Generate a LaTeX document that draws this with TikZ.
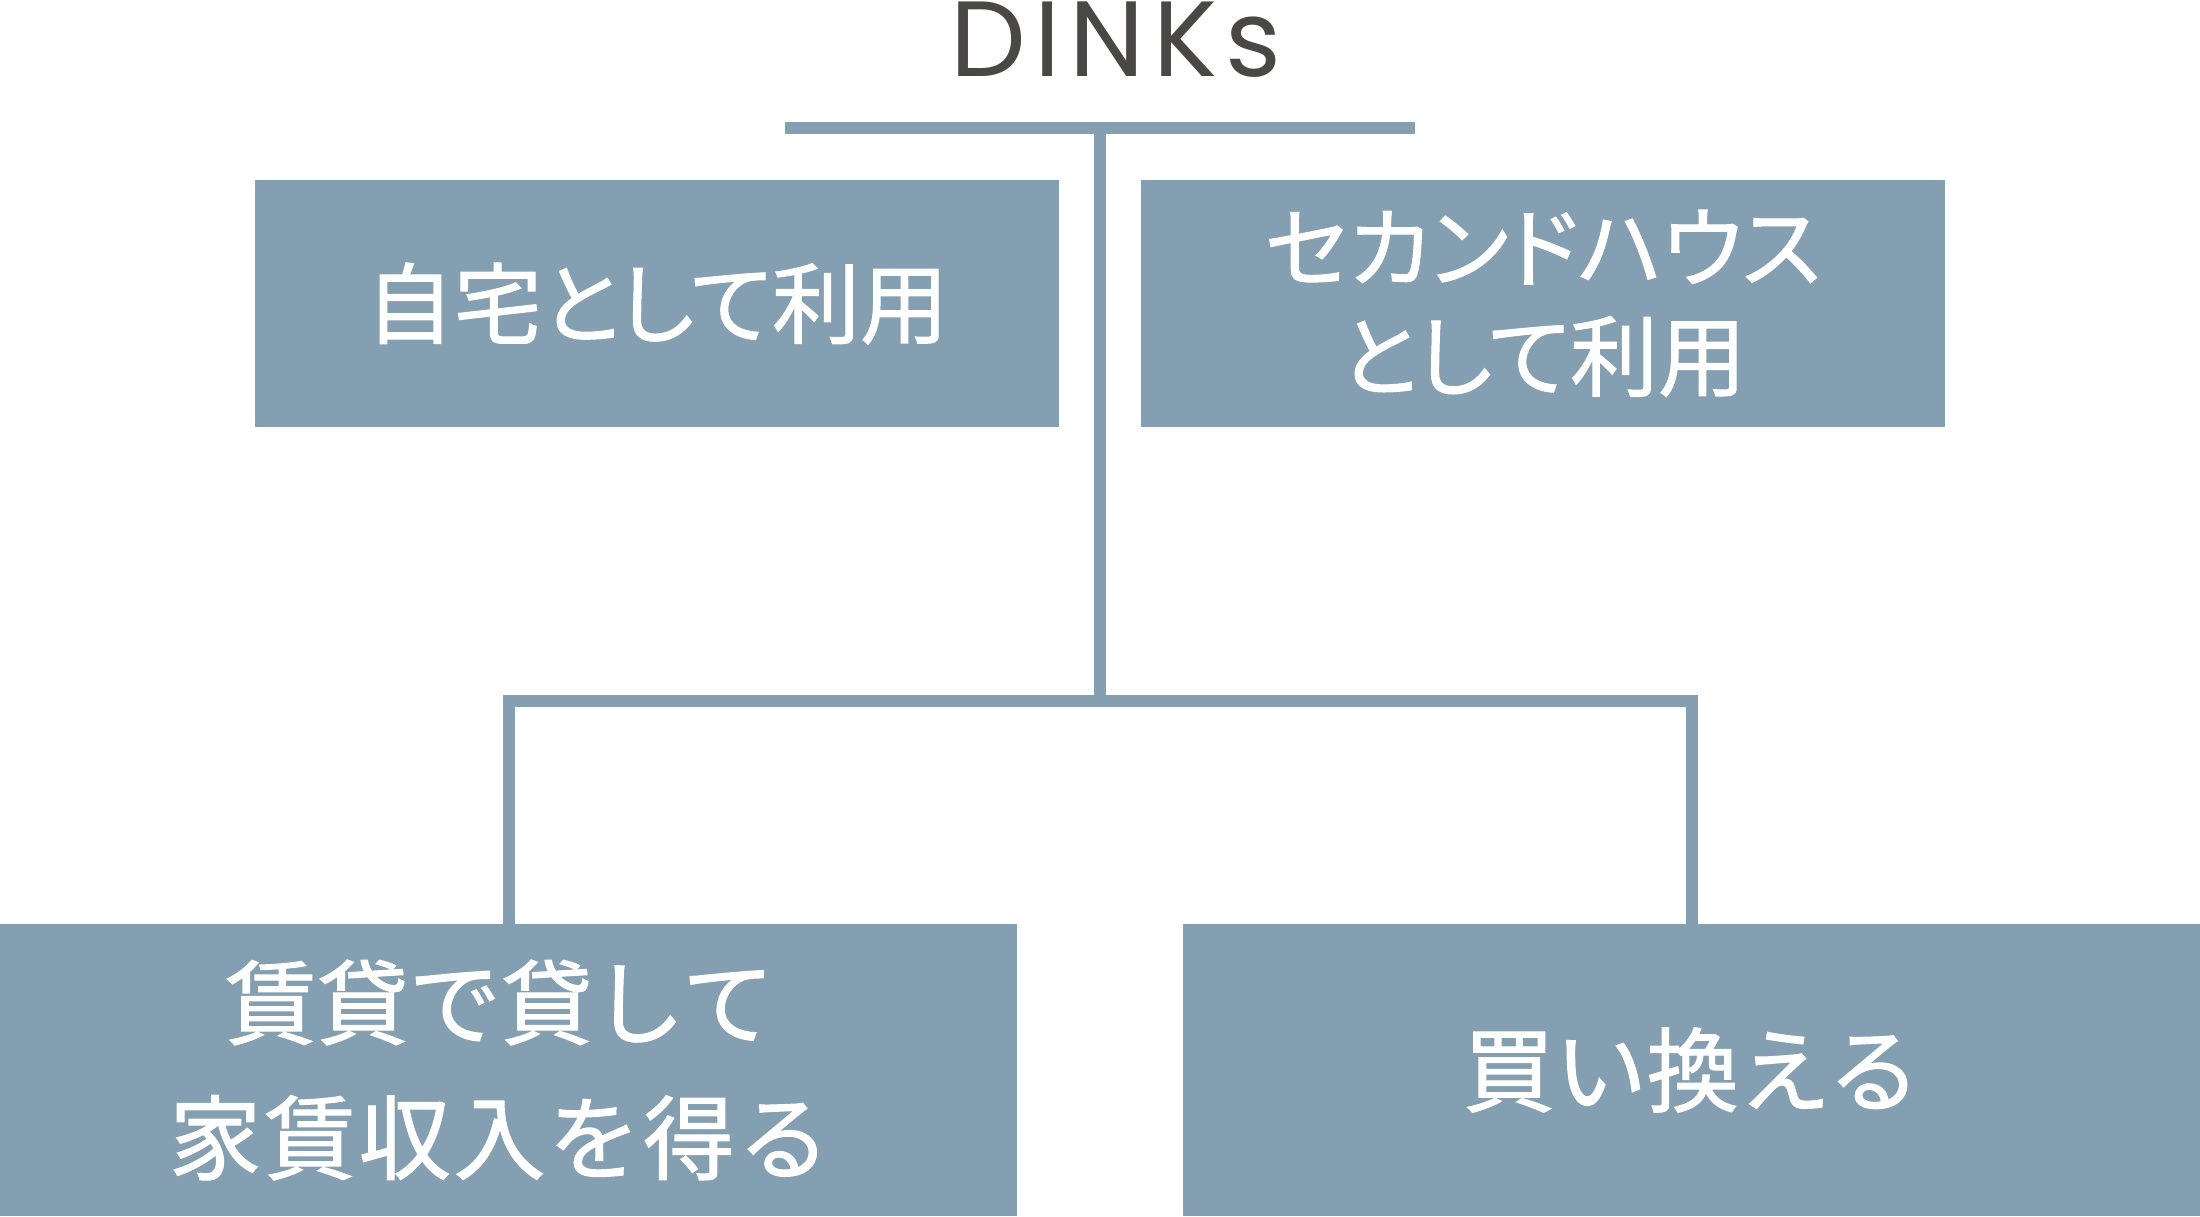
\documentclass[tikz,border=0pt]{standalone}
\usepackage{fontspec}
\newfontfamily\jpfont[RawFeature=+palt, FakeBold=1.2]{Noto Sans CJK JP}
\newfontfamily\jpfontwide[FakeBold=1.2]{Noto Sans CJK JP}
\newfontfamily\titlefont[LetterSpace=8]{Poppins}
\definecolor{boxblue}{HTML}{839FB1}
\definecolor{titlegray}{HTML}{4A4846}
\tikzset{
  box/.style={fill=boxblue, draw=none, inner sep=0pt, text=white, align=center},
  conn/.style={draw=boxblue, line width=12pt, line cap=butt, line join=miter},
}
\begin{document}
\begin{tikzpicture}[x=1pt,y=-1pt]
\useasboundingbox (0,0) rectangle (2200,1216);
% title
\node[text=titlegray, inner sep=0pt, font=\titlefont\fontsize{107}{107}\selectfont] (title) at (1116,40) {DINKs};
\node[fill=boxblue, inner sep=0pt, minimum width=630pt, minimum height=12pt] (bar) at (1100,128) {};
% top boxes
\node[box, minimum width=804pt, minimum height=247pt, font=\jpfont\fontsize{88}{109}\selectfont] (home) at (657,303.5) {\raisebox{-5pt}{自宅として利用}};
\node[box, minimum width=804pt, minimum height=247pt, font=\jpfont\fontsize{88}{109}\selectfont] (second) at (1543,303.5) {セカンドハウス\\として利用};
% bottom boxes
\node[box, minimum width=1017pt, minimum height=292pt, font=\jpfontwide\fontsize{92}{135}\selectfont] (rent) at (508.5,1070) {\hspace*{-18pt}賃貸で貸して\\\hspace*{-18pt}\addfontfeature{LetterSpace=3}家賃収入を得る};
\node[box, minimum width=1017pt, minimum height=292pt, font=\jpfontwide\fontsize{92}{135}\selectfont] (replace) at (1691.5,1070) {\raisebox{-3pt}{買い換える}};
% connectors
\coordinate (junction) at (1100,701);
\draw[conn] (bar.south) -- (junction);
\draw[conn] (rent.north) |- (junction) -| (replace.north);
\end{tikzpicture}
\end{document}
